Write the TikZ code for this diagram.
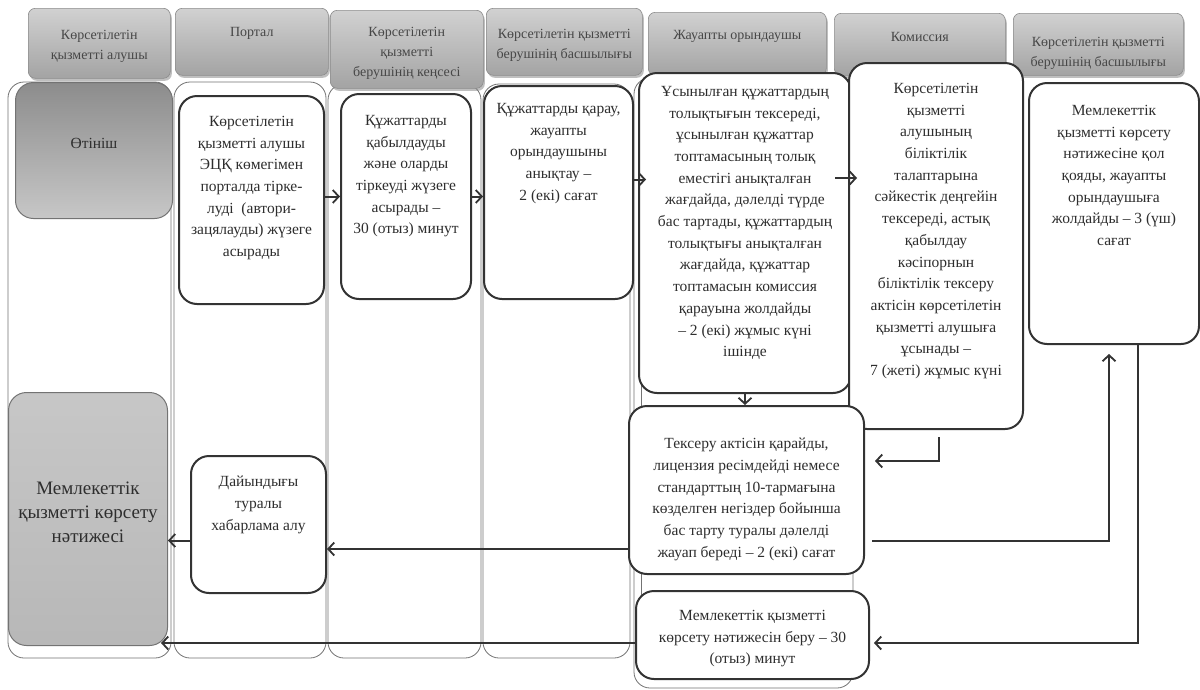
\documentclass[tikz,border=0pt]{standalone}
\usepackage{fontspec}
\setmainfont{Liberation Serif}
\usetikzlibrary{arrows.meta,shadows,calc}
\begin{document}
\begin{tikzpicture}[x=1pt,y=-1pt,
  lane/.style={draw=black!55, line width=0.8pt, rounded corners=16pt},
  hdr/.style={draw=black!45, line width=0.6pt, rounded corners=7pt,
    top color=black!18, bottom color=black!36,
    drop shadow={shadow xshift=1.5pt, shadow yshift=-2.5pt, opacity=0.5},
    inner sep=0pt, anchor=north west},
  hlbl/.style={inner sep=0pt, align=center, text=black!72,
    font=\fontsize{14}{20}\selectfont},
  box/.style={draw=black!80, line width=2pt, rounded corners=18pt,
    fill=white, inner sep=0pt, anchor=north west},
  gbox/.style={draw=black!55, line width=1pt, rounded corners=18pt,
    inner sep=0pt, anchor=north west},
  lbl/.style={anchor=north, inner sep=0pt, align=center, text=black!82,
    font=\fontsize{15.5}{21.7}\selectfont},
  arr/.style={draw=black!80, line width=2pt,
    -{Straight Barb[length=6pt,width=13pt,line width=1.8pt]}}
]
\useasboundingbox (0,0) rectangle (1200,689);
\fill[white] (0,0) rectangle (1200,689);

% lanes
\draw[lane] (8,82) rectangle (171,658);
\draw[lane] (174,82) rectangle (326,658);
\draw[lane] (328,84) rectangle (481,658);
\draw[lane] (483,84) rectangle (630,658);
\draw[lane] (634,78) rectangle (853,688);
\draw[draw=black!55, line width=0.8pt] (641,90) -- (641,675);

% headers
\node[hdr, minimum width=142, minimum height=70,
  label={[hlbl, yshift=-3pt]center:{Көрсетілетін\\қызметті алушы}}] (h1) at (28,8) {};
\node[hdr, minimum width=153, minimum height=67,
  label={[hlbl, yshift=8pt]center:{Портал}}] (h2) at (175,8) {};
\node[hdr, minimum width=153, minimum height=78,
  label={[hlbl, yshift=-4pt]center:{Көрсетілетін\\қызметті\\берушінің кеңсесі}}] (h3) at (330,10) {};
\node[hdr, minimum width=156, minimum height=67,
  label={[hlbl, yshift=-4pt]center:{Көрсетілетін қызметті\\берушінің басшылығы}}] (h4) at (486,8) {};
\node[hdr, minimum width=178, minimum height=63,
  label={[hlbl, yshift=7pt]center:{Жауапты орындаушы}}] (h5) at (648,12) {};
\node[hdr, minimum width=171, minimum height=62,
  label={[hlbl, yshift=7pt]center:{Комиссия}}] (h6) at (834,13) {};
\node[hdr, minimum width=170, minimum height=62,
  label={[hlbl, yshift=-9pt]center:{Көрсетілетін қызметті\\берушінің басшылығы}}] (h7) at (1013,13) {};

% grey boxes
\node[gbox, minimum width=157, minimum height=136,
  shading=axis, top color=black!45, bottom color=black!22,
  label={[lbl, anchor=center, yshift=7pt]center:{Өтініш}}] (otin) at (15,82) {};
\node[gbox, minimum width=159, minimum height=253,
  shading=axis, top color=black!22, middle color=black!38, bottom color=black!28,
  label={[lbl, anchor=center, yshift=7pt, font=\fontsize{19}{24}\selectfont]center:{Мемлекеттік\\қызметті көрсету\\нәтижесі}}] (res) at (8,392) {};

% process boxes
\node[box, minimum width=145, minimum height=208,
  label={[lbl, yshift=-21pt]north:{Көрсетілетін\\қызметті алушы\\ЭЦҚ көмегімен\\порталда тірке-\\луді~ (автори-\\зацялауды) жүзеге\\асырады}}] (portal) at (178,95) {};
\node[box, minimum width=130, minimum height=205,
  label={[lbl, yshift=-22pt]north:{Құжаттарды\\қабылдауды\\және оларды\\тіркеуді жүзеге\\асырады –\\30 (отыз) минут}}] (kense) at (340,93) {};
\node[box, minimum width=149, minimum height=213,
  label={[lbl, yshift=-18pt]north:{Құжаттарды қарау,\\жауапты\\орындаушыны\\анықтау –\\2 (екі) сағат}}] (bassh) at (483,85) {};
\node[box, minimum width=212, minimum height=320,
  label={[lbl, yshift=-14pt]north:{Ұсынылған құжаттардың\\толықтығын тексереді,\\ұсынылған құжаттар\\топтамасының толық\\еместігі анықталған\\жағдайда, дәлелді түрде\\бас тартады, құжаттардың\\толықтығы анықталған\\жағдайда, құжаттар\\топтамасын комиссия\\қарауына жолдайды\\– 2 (екі) жұмыс күні\\ішінде}}] (zh) at (638,72) {};
\node[box, minimum width=174, minimum height=366,
  label={[lbl, yshift=-21pt]north:{Көрсетілетін\\қызметті\\алушының\\біліктілік\\талаптарына\\сәйкестік деңгейін\\тексереді, астық\\қабылдау\\кәсіпорнын\\біліктілік тексеру\\актісін көрсетілетін\\қызметті алушыға\\ұсынады –\\7 (жеті) жұмыс күні}}] (kom) at (848,62) {};
\node[box, minimum width=170, minimum height=261,
  label={[lbl, yshift=-23pt]north:{Мемлекеттік\\қызметті көрсету\\нәтижесіне қол\\қояды, жауапты\\орындаушыға\\жолдайды – 3 (үш)\\сағат}}] (rb) at (1028,82) {};
\node[box, minimum width=235, minimum height=168,
  label={[lbl, yshift=-33pt]north:{Тексеру актісін қарайды,\\лицензия ресімдейді немесе\\стандарттың 10-тармағына\\көзделген негіздер бойынша\\бас тарту туралы дәлелді\\жауап береді – 2 (екі) сағат}}] (tex) at (628,405) {};
\node[box, minimum width=233, minimum height=88,
  label={[lbl, yshift=-20pt]north:{Мемлекеттік қызметті\\көрсету нәтижесін беру – 30\\(отыз) минут}}] (beru) at (635,590) {};
\node[box, minimum width=135, minimum height=137,
  label={[lbl, yshift=-21pt]north:{Дайындығы\\туралы\\хабарлама алу}}] (dai) at (190,455) {};

% connectors
\draw[arr] (portal.east |- kense.west) -- (kense.west);
\draw[arr] (kense.east) -- (kense.east -| bassh.west);
\coordinate (a3) at ($(bassh.east)+(0,-13)$);
\coordinate (a3e) at ($(a3 -| zh.west)+(8,0)$);
\draw[arr] (a3) -- (a3e);
\coordinate (a4) at ($(zh.east)+(-17,-55)$);
\coordinate (a4e) at ($(kom.west |- a4)+(9,0)$);
\draw[arr] (a4) -- (a4e);
\draw[arr] (zh.south) -- (zh.south |- tex.north);
\coordinate (a6) at ($(kom.south)+(3,7)$);
\coordinate (a6e) at ($(tex.east)+(10,-29)$);
\draw[arr] (a6) |- (a6e);
\coordinate (a7) at ($(tex.east)+(7,51)$);
\coordinate (a7e) at ($(rb.south)+(-5,9)$);
\draw[arr] (a7) -| (a7e);
\coordinate (a8) at ($(rb.south)+(24,0)$);
\coordinate (a8e) at ($(beru.east)+(4,8)$);
\draw[arr] (a8) |- (a8e);
\coordinate (a9) at ($(tex.west)+(0,59)$);
\draw[arr] (a9) -- (a9 -| dai.east);
\coordinate (a10) at ($(dai.west)+(0,16)$);
\draw[arr] (a10) -- (a10 -| res.east);
\coordinate (a11) at ($(beru.west)+(0,8)$);
\coordinate (a11e) at ($(a11 -| res.east)+(-7,0)$);
\draw[arr] (a11) -- (a11e);
\end{tikzpicture}
\end{document}
